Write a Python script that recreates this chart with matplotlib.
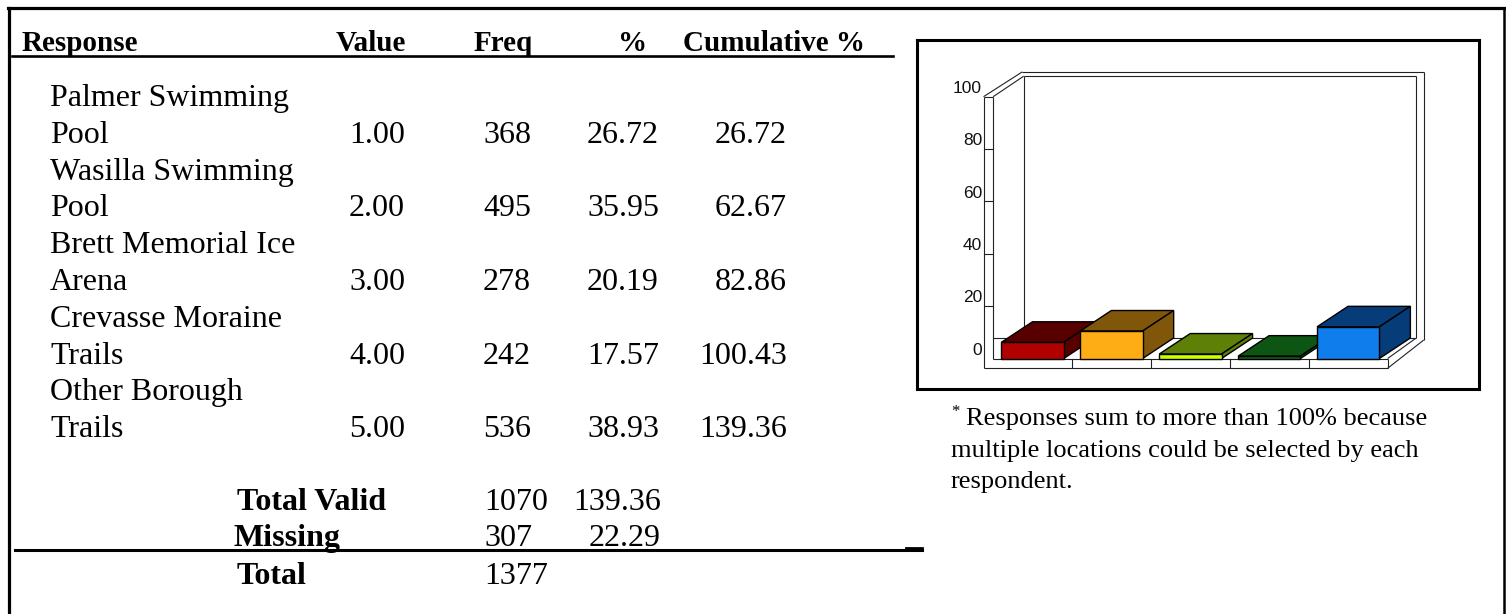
import numpy as np
import matplotlib.pyplot as plt
from matplotlib.patches import Polygon

# ---- table data ----
headers = ['Response', 'Value', 'Freq', '%', 'Cumulative %']
resp_line1 = ['Palmer Swimming', 'Wasilla Swimming', 'Brett Memorial Ice',
              'Crevasse Moraine', 'Other Borough']
resp_line2 = ['Pool', 'Pool', 'Arena', 'Trails', 'Trails']
values = [1.00, 2.00, 3.00, 4.00, 5.00]
freq = [368, 495, 278, 242, 536]
pct = [26.72, 35.95, 20.19, 17.57, 38.93]
cum_pct = [26.72, 62.67, 82.86, 100.43, 139.36]
total_labels = ['Total Valid', 'Missing', 'Total']
total_freq = [1070, 307, 1377]
total_pct = [139.36, 22.29, None]

# ---- bar chart (heights as drawn in the little 3d chart) ----
bar_vals = [6.2, 10.5, 1.7, 0.9, 12.1]
front_cols = ['#B00000', '#FFAD14', '#CCFF00', '#10621A', '#0F7DEB']
dark_cols = ['#580000', '#80570A', '#5F8006', '#0D5513', '#063C78']
yticks = [0, 20, 40, 60, 80, 100]
footnote = ['Responses sum to more than 100% because',
            'multiple locations could be selected by each',
            'respondent.']

serif = 'Liberation Serif'
sans = 'Liberation Sans'

fig = plt.figure(figsize=(15.06, 6.14), dpi=100)

# background axes in pixel units for the table text
bg = fig.add_axes([0, 0, 1, 1])
bg.set_xlim(0, 1506)
bg.set_ylim(614, 0)
bg.axis('off')

# page frame (no bottom edge)
bg.plot([9, 9], [614, 7.5], color='black', lw=2.3)
bg.plot([8, 1505], [7.5, 7.5], color='black', lw=2.3)
bg.plot([1504.5, 1504.5], [7.5, 614], color='black', lw=1.8)

# header
hx = [22, 406, 474, 647, 865]
hha = ['left', 'right', 'left', 'right', 'right']
for h, x, a in zip(headers, hx, hha):
    bg.text(x, 51, h, family=serif, fontsize=21, fontweight='bold',
            ha=a, va='baseline')
bg.plot([12, 893], [56, 56], color='black', lw=1.9)

# body rows
for i in range(len(freq)):
    yb = 143 + 73.5 * i
    bg.text(50, yb - 36.7, resp_line1[i], family=serif, fontsize=23, va='baseline')
    bg.text(50, yb, resp_line2[i], family=serif, fontsize=23, va='baseline')
    bg.text(405, yb, '%.2f' % values[i], family=serif, fontsize=23, ha='right', va='baseline')
    bg.text(531, yb, str(freq[i]), family=serif, fontsize=23, ha='right', va='baseline')
    bg.text(659, yb, '%.2f' % pct[i], family=serif, fontsize=23, ha='right', va='baseline')
    bg.text(787, yb, '%.2f' % cum_pct[i], family=serif, fontsize=23, ha='right', va='baseline')

# totals
tys = [510, 546, 584]
tlx = [237, 234, 237]
for lab, f, p, y, lx in zip(total_labels, total_freq, total_pct, tys, tlx):
    bg.text(lx, y, lab, family=serif, fontsize=23, fontweight='bold', va='baseline')
    bg.text(484, y, str(f), family=serif, fontsize=23, va='baseline')
    if p is not None:
        bg.text(661, y, '%.2f' % p, family=serif, fontsize=23, ha='right', va='baseline')
bg.plot([15, 922], [550, 550], color='black', lw=2.2)
bg.plot([906, 922], [547.5, 547.5], color='black', lw=2.0)

# footnote
bg.text(951, 416, '*', family=serif, fontsize=12, va='baseline')
for j, line in enumerate(footnote):
    bg.text(966 if j == 0 else 951, 425 + 31.5 * j, line, family=serif,
            fontsize=19, va='baseline')

# ---- 3d style bar chart ----
L, R, T, B = 917, 1479, 40, 389
ax = fig.add_axes([L / 1506, 1 - B / 614, (R - L) / 1506, (B - T) / 614])
xu, x_c0 = 78.9, 1032.6      # px per category, px of first category
yu, y_0 = 2.618, 358.5       # px per value unit, px of value 0
ax.set_xlim((L - x_c0) / xu, (R - x_c0) / xu)
ax.set_ylim((y_0 - B) / yu, (y_0 - T) / yu)
ax.set_xticks([])
ax.set_yticks([])
for s in ax.spines.values():
    s.set_linewidth(2.2)
    s.set_color('black')

lc = '#222222'
lw = 0.8
x0, x1 = -0.5, len(bar_vals) - 0.5
xo = -0.622          # outer face of left wall
yb = -3.74           # bottom of floor slab
ddx, ddy = 0.387, 7.84
xbi, xbo = x1 + 0.358, x1 + 0.458   # back wall right, inner / outer
ybi, ybo = 100 + ddy, 109.5         # back wall top, inner / outer

frame_lines = [
    # left wall
    ([xo, xo], [yb, 100]), ([x0, x0], [0, 100]), ([xo, x0], [100, 100]),
    ([x0, x0 + ddx], [100, ybi]), ([xo, x0 + ddx - 0.017], [100, ybo]),
    # back wall
    ([x0 + ddx, x0 + ddx], [ddy, ybi]), ([x0 + ddx, xbi], [ybi, ybi]),
    ([x0 + ddx - 0.017, xbo], [ybo, ybo]),
    ([xbi, xbi], [ddy - 0.1, ybi]), ([xbo, xbo], [7.07, ybo]),
    # floor
    ([x0, xbi], [ddy, ddy]), ([x0, x1], [0, 0]), ([xo, x1], [yb, yb]),
    ([x1, x1], [yb, 0]), ([x1, xbi], [0, ddy - 0.1]), ([x1, xbo], [yb, 7.07]),
]
for xs, ys in frame_lines:
    ax.plot(xs, ys, color=lc, lw=lw, zorder=1, solid_capstyle='butt')
for k in range(len(bar_vals) - 1):
    ax.plot([k + 0.5, k + 0.5], [yb, 0], color=lc, lw=lw, zorder=1)

# y ticks across the front of the left wall
for t in yticks:
    if 0 < t < 100:
        ax.plot([xo, x0], [t, t], color=lc, lw=lw, zorder=1)
    ax.text(-0.64, t + 3.2, str(t), family=sans, fontsize=12.5, ha='right',
            va='center', color='#111111')

# bars: front from ax.bar, top and side faces as polygons
w = 0.79
bdx, bdy = 0.393, 7.83
for k, v in enumerate(bar_vals):
    l, r = k - w / 2, k + w / 2
    top = Polygon([(l, v), (r, v), (r + bdx, v + bdy), (l + bdx, v + bdy)],
                  closed=True, facecolor=dark_cols[k], edgecolor='black',
                  lw=1.0, zorder=3 + k)
    side = Polygon([(r, 0), (r + bdx, bdy), (r + bdx, v + bdy), (r, v)],
                   closed=True, facecolor=dark_cols[k], edgecolor='black',
                   lw=1.0, zorder=3 + k)
    ax.add_patch(top)
    ax.add_patch(side)
    ax.bar(k, v, width=w, color=front_cols[k], edgecolor='black', lw=1.0,
           zorder=3.5 + k)

fig.savefig('out.png', dpi=100)
